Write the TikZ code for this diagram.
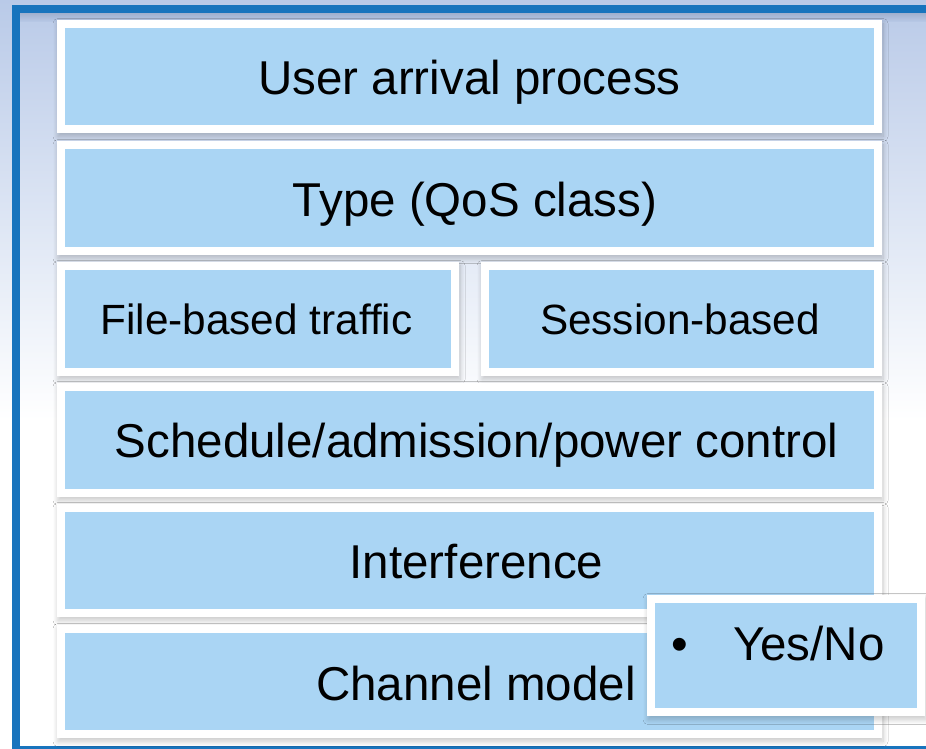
\documentclass[tikz,border=0pt]{standalone}
\usepackage{fontspec}
\setmainfont{Liberation Sans}
\usetikzlibrary{shadows.blur}

\definecolor{bgtop}{RGB}{185,202,232}
\definecolor{bgedge}{RGB}{160,176,206}
\definecolor{frameblue}{RGB}{24,116,189}
\definecolor{boxblue}{RGB}{170,213,244}

\tikzset{
  panel/.style={rectangle, fill=white, inner sep=0pt, outer sep=0pt,
    blur shadow={shadow xshift=1pt, shadow yshift=-3.5pt,
                 shadow blur radius=5pt, shadow blur steps=10,
                 shadow opacity=22},
    path picture={\fill[boxblue]
      ([shift={(8pt,-8pt)}]path picture bounding box.north west) rectangle
      ([shift={(-8pt,8pt)}]path picture bounding box.south east);}},
  biglabel/.style={anchor=base, inner sep=0pt, font=\fontsize{47.5}{57}\selectfont},
  smalllabel/.style={anchor=base, inner sep=0pt, font=\fontsize{42.3}{51}\selectfont},
}

\begin{document}
\begin{tikzpicture}[x=1pt,y=-1pt]
  \useasboundingbox (0,0) rectangle (926,749);
  \clip (0,0) rectangle (926,749);

  % background
  \shade[top color=bgtop, bottom color=white] (0,0) rectangle (926,420);
  \fill[white] (0,419) rectangle (926,749);

  % soft shadow under the frame's top edge
  \shade[top color=bgedge, bottom color=bgtop] (20,13) rectangle (926,22);

  % frame
  \draw[frameblue, line width=8pt] (16,9) rectangle (940,750);

  % stacked panels
  \node[panel, minimum width=825pt, minimum height=113pt] (arrival)   at (469.5,76.5) {};
  \node[panel, minimum width=825pt, minimum height=114pt] (qos)       at (469.5,198)  {};
  \node[panel, minimum width=402pt, minimum height=114pt] (filebased) at (258,319)    {};
  \node[panel, minimum width=401pt, minimum height=114pt] (session)   at (681.5,319)  {};
  \node[panel, minimum width=825pt, minimum height=114pt] (schedule)  at (469.5,440)  {};
  \node[panel, minimum width=825pt, minimum height=113pt] (interf)    at (469.5,560.5){};
  \node[panel, minimum width=825pt, minimum height=113pt] (channel)   at (469.5,681.5){};
  \node[panel, minimum width=278pt, minimum height=121pt] (yesno)     at (786,655.5)  {};

  % labels
  \node[biglabel]   (arrivaltext)  at (469.5,95)  {User arrival process};
  \node[biglabel]   (qostext)      at (475,216)   {Type (QoS class)};
  \node[smalllabel] (filetext)     at (256.5,334) {File-based traffic};
  \node[smalllabel] (sessiontext)  at (680,334)   {Session-based};
  \node[biglabel]   (scheduletext) at (476.5,457) {Schedule/admission/power control};
  \node[biglabel]   (interftext)   at (476.5,578) {Interference};
  \node[biglabel]   (channeltext)  at (476,700)   {Channel model};
  \node[biglabel, anchor=base west] (yesnotext) at (671.7,660)
    {\makebox[61.3pt][l]{•}Yes/No};
\end{tikzpicture}
\end{document}
